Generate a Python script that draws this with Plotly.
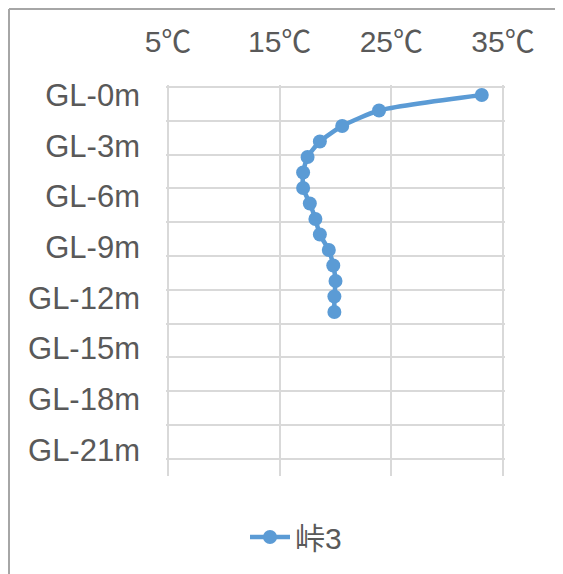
import plotly.graph_objects as go

# Data: temperature profile of well "峠3"
series_name = "峠3"
depth_m = [0, 1, 2, 3, 4, 5, 6, 7, 8, 9, 10, 11, 12, 13, 14]
temp_c = [33.1, 23.9, 20.6, 18.6, 17.5, 17.1, 17.1, 17.7, 18.2, 18.6, 19.4, 19.8, 20.0, 19.9, 19.9]

# Axis labels
y_tick_pos = [0, 3.27, 6.54, 9.81, 13.08, 16.35, 19.62, 22.89]
y_tick_text = ["GL-0m", "GL-3m", "GL-6m", "GL-9m", "GL-12m", "GL-15m", "GL-18m", "GL-21m"]
y_grid_pos = [-0.516 + 2.18 * k for k in range(12)]
x_ticks = [5, 15, 25, 35]
x_tick_text = ["5℃", "15℃", "25℃", "35℃"]

OFF = 8  # browser default body margin
W, H = 563 - OFF, 574 - OFF
# plot area in page pixels (slightly padded so edge gridlines are drawn)
PL, PR, PT, PB = 166, 505, 85, 476
L, R, T, B = PL - OFF, W - (PR - OFF), PT - OFF, H - (PB - OFF)
pw = PR - PL
ph = PB - PT

FONT = "Liberation Sans, Arial, Noto Sans CJK JP, sans-serif"
TXT = "#595959"
GRID = "#D9D9D9"
BLUE = "#5B9BD5"
FRAME = "#A6A6A6"

fig = go.Figure()
fig.add_trace(go.Scatter(
    x=temp_c, y=depth_m, mode="lines+markers", name=series_name,
    line=dict(color=BLUE, width=4.5, shape="spline", smoothing=0.6),
    marker=dict(color=BLUE, size=14),
))

fx0 = (9 - PL) / pw
fy1 = (PB - 9) / ph

fig.update_layout(
    width=W, height=H,
    margin=dict(l=L, r=R, t=T, b=B, autoexpand=False),
    paper_bgcolor="white", plot_bgcolor="white",
    font=dict(family=FONT, color=TXT, size=31),
    showlegend=True,
    legend=dict(orientation="h", x=(296 - PL) / pw, xanchor="center",
                y=(PB - 537) / ph, yanchor="middle",
                font=dict(family=FONT, size=30, color=TXT), bgcolor="rgba(0,0,0,0)",
                itemwidth=40),
    xaxis=dict(range=[4.82, 35.18], side="top", tickvals=x_ticks, ticktext=x_tick_text,
               showgrid=True, gridcolor=GRID, gridwidth=1.5, zeroline=False,
               showline=False, ticks="", ticklabelstandoff=26,
               tickfont=dict(family=FONT, size=30, color=TXT)),
    yaxis=dict(range=[24.58, -0.645], tickvals=y_tick_pos, ticktext=y_tick_text,
               showgrid=False, zeroline=False, showline=False, ticks="",
               ticklabelstandoff=25,
               tickfont=dict(family=FONT, size=31, color=TXT),
               minor=dict(tickvals=y_grid_pos, showgrid=True, gridcolor=GRID, gridwidth=1.5, ticks="")),
    shapes=[
        dict(type="line", xref="paper", yref="paper", x0=fx0, x1=fx0, y0=-1, y1=fy1,
             line=dict(color=FRAME, width=2), layer="below"),
        dict(type="line", xref="paper", yref="paper", x0=fx0, x1=1.5, y0=fy1, y1=fy1,
             line=dict(color=FRAME, width=2), layer="below"),
    ],
)

fig.write_html("out.html")
